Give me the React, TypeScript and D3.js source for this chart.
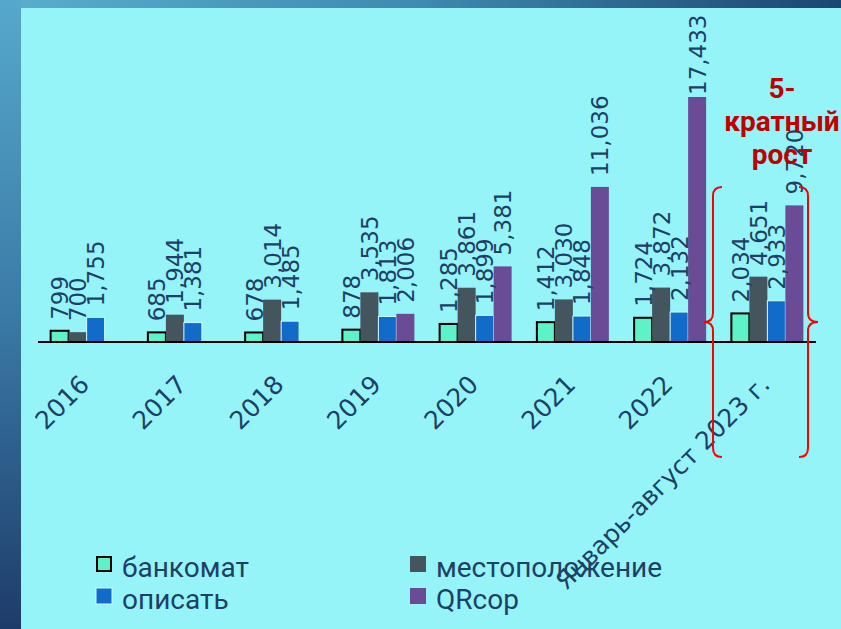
import React from "react";
import * as d3 from "d3";

const categories = ["2016", "2017", "2018", "2019", "2020", "2021", "2022", "Январь-август 2023 г."];
const seriesNames = ["банкомат", "местоположение", "описать", "QRcop"];
const atmValues = [799, 685, 678, 878, 1285, 1412, 1724, 2034];
const locationValues = [700, 1944, 3014, 3535, 3861, 3030, 3872, 4651];
const describeValues = [1755, 1381, 1485, 1813, 1899, 1848, 2132, 2933];
const qrcopValues: (number | null)[] = [null, null, null, 2006, 5381, 11036, 17433, 9720];
const annotationLines = ["5-", "кратный", "рост"];

const seriesValues = [atmValues, locationValues, describeValues, qrcopValues];
const seriesColors = ["#5EF2C8", "#44555E", "#106CC8", "#6A4C96"];
const seriesStroke = ["#000000", "none", "#CFFBFF", "none"];

const W = 841;
const H = 629;
const BASE = 342;
const TEXT = "#1E3F66";
const NUMFONT = "'DejaVu Sans', sans-serif";

export default function App() {
  const x0 = d3.scaleBand<string>().domain(categories).range([38, 816]).padding(0);
  const bw = x0.bandwidth();
  const groupW = 72;
  const x1 = d3
    .scaleBand<string>()
    .domain(seriesNames)
    .range([(bw - groupW) / 2, (bw + groupW) / 2])
    .padding(0);
  const maxV = d3.max(seriesValues.flat().filter((v) => v != null) as number[]) as number;
  const y = d3.scaleLinear().domain([0, maxV]).range([BASE, 97]);
  const fmt = d3.format(",");

  const bars: React.ReactNode[] = [];
  const labels: React.ReactNode[] = [];
  seriesNames.forEach((s, si) => {
    seriesValues[si].forEach((v, ci) => {
      if (v == null) return;
      const bx = (x0(categories[ci]) as number) + (x1(s) as number);
      const top = y(v);
      bars.push(
        <rect
          key={`b-${si}-${ci}`}
          x={bx}
          y={top}
          width={x1.bandwidth()}
          height={BASE - top}
          fill={seriesColors[si]}
          stroke={seriesStroke[si]}
          strokeWidth={si === 0 ? 2 : 1}
        />
      );
      const txt = fmt(v);
      const len = txt.length * 13.5;
      const ly = Math.max(top - 11, 14 + len);
      const lx = bx + x1.bandwidth() / 2 + 8.5;
      labels.push(
        <text
          key={`l-${si}-${ci}`}
          x={lx}
          y={ly}
          transform={`rotate(-90 ${lx} ${ly})`}
          fontFamily={NUMFONT}
          fontSize={23}
          fill={TEXT}
          textAnchor="start"
        >
          {txt}
        </text>
      );
    });
  });

  const legendPos = [
    { x: 96, y: 556 },
    { x: 410, y: 556 },
    { x: 96, y: 588 },
    { x: 410, y: 588 },
  ];

  return (
    <svg
      width={W}
      height={H}
      style={{ position: "absolute", left: 0, top: 0, display: "block" }}
    >
      <defs>
        <linearGradient id="topBand" x1="0" y1="0" x2="1" y2="0">
          <stop offset="0" stopColor="#5AAED0" />
          <stop offset="0.5" stopColor="#3E8AB0" />
          <stop offset="1" stopColor="#1B4673" />
        </linearGradient>
        <linearGradient id="leftBand" x1="0" y1="0" x2="0" y2="1">
          <stop offset="0" stopColor="#56A8CC" />
          <stop offset="0.5" stopColor="#3A7AA6" />
          <stop offset="1" stopColor="#1E3C6A" />
        </linearGradient>
      </defs>
      <rect x={0} y={0} width={W} height={H} fill="#95F4F8" />
      <rect x={0} y={0} width={W} height={8} fill="url(#topBand)" />
      <rect x={0} y={0} width={21} height={H} fill="url(#leftBand)" />

      {bars}
      <line x1={38} x2={816} y1={BASE} y2={BASE} stroke="#000" strokeWidth={2} />
      {labels}

      {categories.map((c) => {
        const cx = (x0(c) as number) + bw / 2 + 4;
        const cy = BASE + 44;
        return (
          <text
            key={`c-${c}`}
            x={cx}
            y={cy}
            transform={`rotate(-45 ${cx} ${cy})`}
            textAnchor="end"
            fontFamily={NUMFONT}
            fontSize={25}
            fill={TEXT}
          >
            {c}
          </text>
        );
      })}

      {seriesNames.map((s, i) => {
        const p = legendPos[i];
        return (
          <g key={`lg-${s}`}>
            <rect
              x={p.x + (i === 0 ? 1 : 0)}
              y={p.y + (i === 0 ? 1 : 0)}
              width={i === 0 ? 14 : 16}
              height={i === 0 ? 14 : 16}
              fill={seriesColors[i]}
              stroke={i === 0 ? "#000" : i === 2 ? "#CFFBFF" : "none"}
              strokeWidth={i === 0 ? 2 : 1}
            />
            <text
              x={p.x + 26}
              y={p.y + 21}
              fontFamily="Roboto, 'Noto Sans', sans-serif"
              fontSize={28}
              fill={TEXT}
            >
              {s}
            </text>
          </g>
        );
      })}

      <path
        d="M 722 187 Q 713 187 713 196 L 713 313 Q 713 322 704 322 Q 713 322 713 331 L 713 448 Q 713 457 722 457"
        fill="none"
        stroke="#FF0000"
        strokeWidth={2}
      />
      <path
        d="M 799 187 Q 808 187 808 196 L 808 313 Q 808 322 818 322 Q 808 322 808 331 L 808 448 Q 808 457 799 457"
        fill="none"
        stroke="#FF0000"
        strokeWidth={2}
      />
      {annotationLines.map((t, i) => (
        <text
          key={`a-${i}`}
          x={782}
          y={98 + i * 33}
          textAnchor="middle"
          fontFamily="Roboto, 'Liberation Sans', sans-serif"
          fontWeight="bold"
          fontSize={28}
          fill="#C00000"
        >
          {t}
        </text>
      ))}
    </svg>
  );
}
